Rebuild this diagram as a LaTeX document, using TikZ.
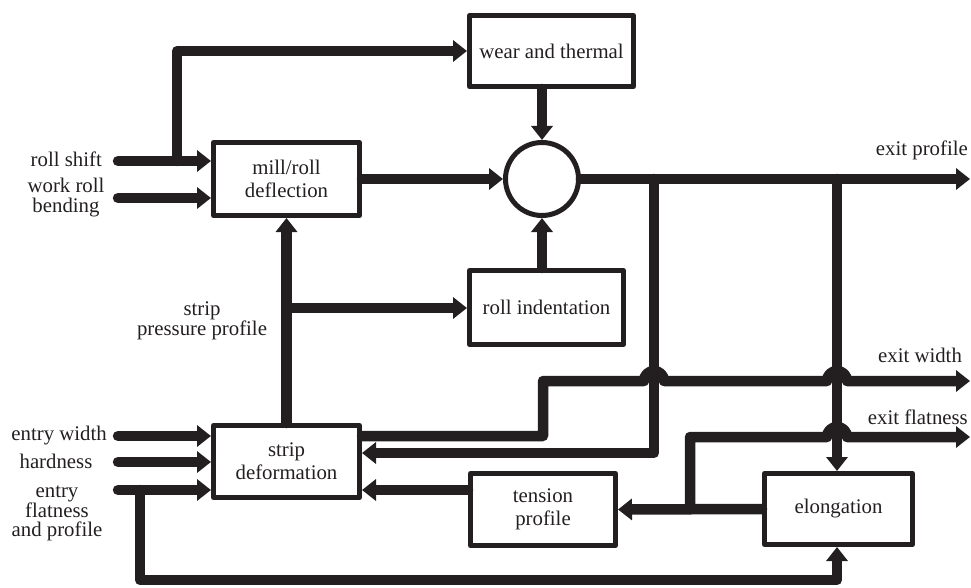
\documentclass[tikz,border=0pt]{standalone}
\usepackage{fontspec}
\setmainfont{Liberation Serif}
\newfontfamily\timesfam{Liberation Serif}
\usetikzlibrary{arrows.meta}
\definecolor{ink}{HTML}{231F20}
\newcommand{\lbl}{\timesfam\fontsize{20.8}{23}\selectfont}

\tikzset{
  blk/.style={draw=ink, text=ink, line width=5pt, rectangle, inner sep=0pt,
    align=center, font=\lbl, line join=round},
  flow/.style={draw=ink, line width=10.5pt, line cap=round, line join=round,
    -{Triangle[length=14pt,width=21pt]}},
  txt/.style={text=ink, inner sep=0pt, align=center, font=\lbl},
}

\begin{document}
\begin{tikzpicture}[x=1pt,y=-1pt]
\useasboundingbox (0,0) rectangle (971,588);

% blocks
\node[blk, minimum width=164pt, minimum height=71pt] (wt) at (551.5,51) {wear and thermal};
\node[blk, minimum width=146pt, minimum height=73pt] (mrd) at (286.5,179) {mill/roll\\deflection};
\node[draw=ink, circle, line width=5pt, minimum size=73pt, inner sep=0pt] (sum) at (542,179) {};
\node[blk, minimum width=154pt, minimum height=74pt] (ri) at (546.5,307.5) {roll indentation};
\node[blk, minimum width=146pt, minimum height=72pt] (sd) at (286.5,461.5) {strip\\deformation};
\node[blk, minimum width=145pt, minimum height=72pt] (tp) at (543,509.5) {tension\\profile};
\node[blk, minimum width=148pt, minimum height=71pt] (el) at (838.5,509) {elongation};

% signal labels
\node[txt, anchor=east] (lRS) at (102,159) {roll shift};
\node[txt, font=\timesfam\fontsize{20.8}{20}\selectfont] (lWRB) at (66,198) {work roll\\bending};
\node[txt, anchor=east] (lEW) at (107,436) {entry width};
\node[txt] (lH) at (56,461) {hardness};
\node[txt, font=\timesfam\fontsize{20.8}{19}\selectfont] (lEF) at (57,513) {entry\\flatness\\and profile};
\node[txt, font=\timesfam\fontsize{20.8}{17.5}\selectfont] (lSP) at (202,321) {strip\\pressure profile};
\node[txt, anchor=east] (lEP) at (968,150) {exit profile};
\node[txt] (lEWd) at (920,355) {exit width};
\node[txt, anchor=east] (lEFl) at (968,417) {exit flatness};

% routing points
\coordinate (rsIn) at (118,161);
\coordinate (rsJ) at (177,161);
\coordinate (wbIn) at (118,198);
\coordinate (ewIn) at (118,436);
\coordinate (hdIn) at (118,462);
\coordinate (efIn) at (118,490);
\coordinate (efJ) at (140,490);
\coordinate (loopL) at (140,580);
\coordinate (loopR) at (837,580);
\coordinate (spJ) at (286.5,308);
\coordinate (jA) at (654,179);
\coordinate (cA) at (654,453);
\coordinate (jB) at (837,179);
\coordinate (epOut) at (970,179);
\coordinate (w1) at (543,436);
\coordinate (w2) at (543,381);
\coordinate (hA) at (644,381);
\coordinate (hB) at (827,381);
\coordinate (ewOut) at (970,381);
\coordinate (fJ) at (690,509);
\coordinate (f2) at (690,437);
\coordinate (hC) at (827,437);
\coordinate (efOut) at (970,437);

% mill inputs
\draw[flow] (rsIn) -- (rsIn -| mrd.west);
\draw[flow] (rsJ) |- (wt.west);
\draw[flow] (wbIn) -- (wbIn -| mrd.west);

% summing junction
\draw[flow] (mrd.east) -- (sum.west);
\draw[flow] (wt.south -| sum.north) -- (sum.north);
\draw[flow] (ri.north -| sum.south) -- (sum.south);
\draw[flow] (sum.east) -- (epOut);

% feedback of exit profile
\draw[flow] (jA) -- (cA) -- (cA -| sd.east);
\draw[flow] (jB) -- (jB |- el.north);

% exit width, hopping over the profile branches
\draw[flow] (w1 -| sd.east) -- (w1) -- (w2) -- (hA)
  arc[start angle=180, end angle=0, radius=10pt] -- (hB)
  arc[start angle=180, end angle=0, radius=10pt] -- (ewOut);

% elongation to tension and exit flatness
\draw[flow] (el.west) -- (tp.east);
\draw[flow] (fJ) -- (f2) -- (hC)
  arc[start angle=180, end angle=0, radius=10pt] -- (efOut);
\draw[flow] (tp.west |- efIn) -- (sd.east |- efIn);

% strip pressure profile
\draw[flow] (sd.north) -- (mrd.south);
\draw[flow] (spJ) -- (spJ -| ri.west);

% strip inputs
\draw[flow] (ewIn) -- (ewIn -| sd.west);
\draw[flow] (hdIn) -- (hdIn -| sd.west);
\draw[flow] (efIn) -- (efIn -| sd.west);
\draw[flow] (efJ) -- (loopL) -- (loopR) -- (loopR |- el.south);
\end{tikzpicture}
\end{document}
